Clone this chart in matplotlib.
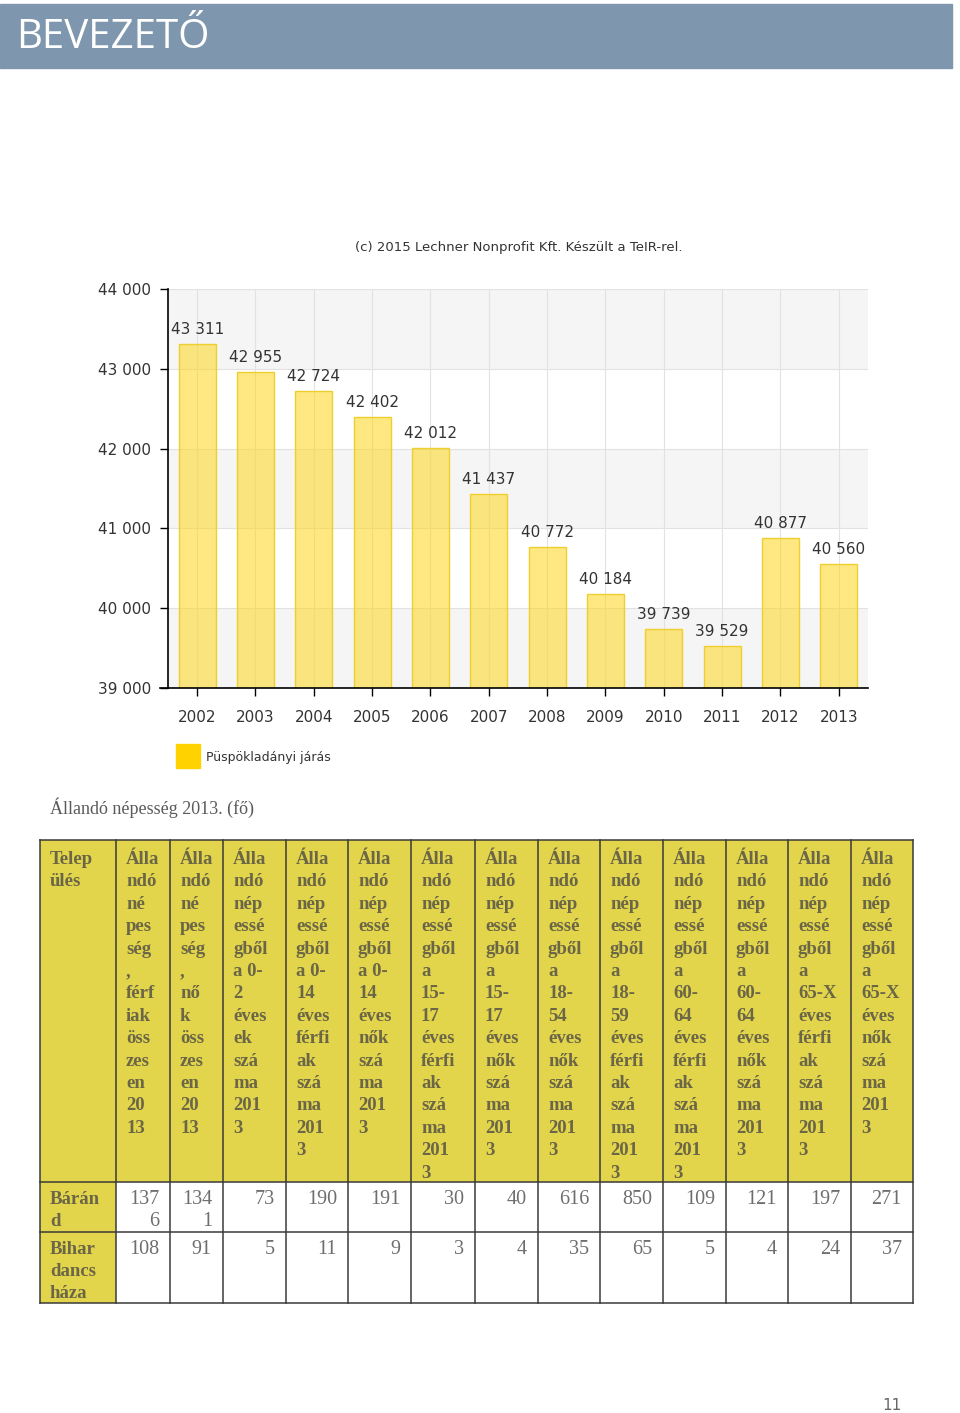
import matplotlib
matplotlib.use('Agg')
import matplotlib.pyplot as plt
from matplotlib.patches import Rectangle
import numpy as np

# chart data
years = ['2002', '2003', '2004', '2005', '2006', '2007', '2008', '2009', '2010', '2011', '2012', '2013']
population = [43311, 42955, 42724, 42402, 42012, 41437, 40772, 40184, 39739, 39529, 40877, 40560]
series_name = 'Püspökladányi járás'

# table data
headers = [
    "Telep\nülés",
    "Álla\nndó\nné\npes\nség\n,\nférf\niak\nöss\nzes\nen\n20\n13",
    "Álla\nndó\nné\npes\nség\n,\nnő\nk\nöss\nzes\nen\n20\n13",
    "Álla\nndó\nnép\nessé\ngből\na 0-\n2\néves\nek\nszá\nma\n201\n3",
    "Álla\nndó\nnép\nessé\ngből\na 0-\n14\néves\nférfi\nak\nszá\nma\n201\n3",
    "Álla\nndó\nnép\nessé\ngből\na 0-\n14\néves\nnők\nszá\nma\n201\n3",
    "Álla\nndó\nnép\nessé\ngből\na\n15-\n17\néves\nférfi\nak\nszá\nma\n201\n3",
    "Álla\nndó\nnép\nessé\ngből\na\n15-\n17\néves\nnők\nszá\nma\n201\n3",
    "Álla\nndó\nnép\nessé\ngből\na\n18-\n54\néves\nnők\nszá\nma\n201\n3",
    "Álla\nndó\nnép\nessé\ngből\na\n18-\n59\néves\nférfi\nak\nszá\nma\n201\n3",
    "Álla\nndó\nnép\nessé\ngből\na\n60-\n64\néves\nférfi\nak\nszá\nma\n201\n3",
    "Álla\nndó\nnép\nessé\ngből\na\n60-\n64\néves\nnők\nszá\nma\n201\n3",
    "Álla\nndó\nnép\nessé\ngből\na\n65-X\néves\nférfi\nak\nszá\nma\n201\n3",
    "Álla\nndó\nnép\nessé\ngből\na\n65-X\néves\nnők\nszá\nma\n201\n3",
]
settlements = ['Báránd', 'Bihardancsháza']
barand = [1376, 1341, 73, 190, 191, 30, 40, 616, 850, 109, 121, 197, 271]
bihardancshaza = [108, 91, 5, 11, 9, 3, 4, 35, 65, 5, 4, 24, 37]
rows = [barand, bihardancshaza]


def chunks(s, n):
    return [s[i:i + n] for i in range(0, len(s), n)]


def fmt(v):
    return f'{v:,}'.replace(',', ' ')


W, H = 960, 1413
fig = plt.figure(figsize=(9.6, 14.13), dpi=100)

page = fig.add_axes([0, 0, 1, 1])
page.set_xlim(0, W)
page.set_ylim(H, 0)
page.axis('off')

# page header
page.add_patch(Rectangle((0, 4), 952, 64, color='#7f97ae'))
page.text(16, 38, 'BEVEZETŐ', fontsize=29, family='Open Sans', color='white', va='center')

# bar chart
ax = fig.add_axes([168 / W, 1 - 688 / H, 700 / W, 399 / H])
x = np.arange(len(years))
ax.set_xlim(-0.5, len(years) - 0.5)
ax.set_ylim(39000, 44000)
for lo in range(39000, 44000, 2000):
    ax.axhspan(lo, lo + 1000, color='#f5f5f5', lw=0, zorder=0)
ax.grid(color='#e2e2e2', lw=0.8)
ax.set_axisbelow(True)
ax.bar(x, population, width=0.63, color=(1.0, 0.84, 0.1, 0.55), edgecolor='#efcf2f', lw=1, zorder=2)
for xi, v in zip(x, population):
    ax.annotate(fmt(v), (xi, v), xytext=(0, 5), textcoords='offset points',
                ha='center', va='bottom', fontsize=11, color='#333333')
yt = np.arange(39000, 44001, 1000)
ax.set_yticks(yt)
ax.set_yticklabels([fmt(v) for v in yt])
ax.set_xticks(x)
ax.set_xticklabels(years)
ax.tick_params(axis='both', length=6, width=1, pad=6, labelsize=11, labelcolor='#333333')
ax.tick_params(axis='x', pad=10)
for s in ['top', 'right']:
    ax.spines[s].set_visible(False)
for s in ['left', 'bottom']:
    ax.spines[s].set_color('black')
    ax.spines[s].set_linewidth(1.2)
# axis line reaches a little left of the y axis
page.plot([160, 168], [688, 688], color='black', lw=1.2)

page.text(519, 248, '(c) 2015 Lechner Nonprofit Kft. Készült a TeIR-rel.', fontsize=9.5,
          color='#333333', ha='center', va='center')

# legend
page.add_patch(Rectangle((176, 744), 24, 24, color='#ffd200'))
page.text(206, 757, series_name, fontsize=9, color='#333333', va='center')

# caption
page.text(50, 808, 'Állandó népesség 2013. (fő)', family='Liberation Serif', fontsize=13,
          color='#5a5a5a', va='center')

# table
col_edges = [40, 116, 170, 223, 286, 348, 411, 475, 538, 600, 663, 726, 788, 851, 913]
row_edges = [840, 1182, 1232, 1303]
yellow = '#e2d54c'
head_color = '#6b6646'
body_color = '#6e6e6e'

page.add_patch(Rectangle((col_edges[0], row_edges[0]), col_edges[-1] - col_edges[0],
                         row_edges[1] - row_edges[0], color=yellow, lw=0))
page.add_patch(Rectangle((col_edges[0], row_edges[1]), col_edges[1] - col_edges[0],
                         row_edges[-1] - row_edges[1], color=yellow, lw=0))

for i, head in enumerate(headers):
    for j, line in enumerate(head.split('\n')):
        page.text(col_edges[i] + 10, 864 + 22.4 * j, line, family='Liberation Serif',
                  weight='bold', fontsize=13.5, color=head_color, va='baseline')

for r, (name, vals) in enumerate(zip(settlements, rows)):
    base = row_edges[r + 1] + 22
    for j, line in enumerate(chunks(name, 5)):
        page.text(col_edges[0] + 10, base + 22 * j, line, family='Liberation Serif',
                  weight='bold', fontsize=13.5, color=head_color, va='baseline')
    for c, v in enumerate(vals):
        for j, line in enumerate(chunks(str(v), 3)):
            page.text(col_edges[c + 2] - 11, base + 22 * j, line, family='Liberation Serif',
                      fontsize=14.5, color=body_color, ha='right', va='baseline')

lc = '#3a3a3a'
for xe in col_edges:
    page.plot([xe, xe], [row_edges[0], row_edges[-1]], color=lc, lw=1.1)
for ye in row_edges:
    page.plot([col_edges[0], col_edges[-1]], [ye, ye], color=lc, lw=1.1)

page.text(892, 1405, '11', fontsize=11, color='#666666', ha='center', va='center')

fig.savefig('out.png', dpi=100)
